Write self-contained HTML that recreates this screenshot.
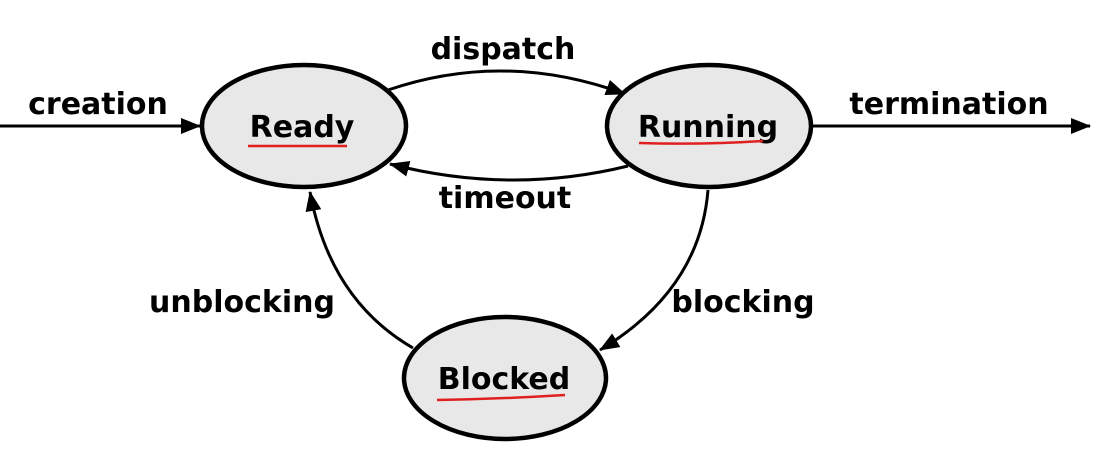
<!DOCTYPE html>
<html><head><meta charset="utf-8"><style>
html,body{margin:0;padding:0;background:#fff;}
svg{display:block;}
text{font-family:"DejaVu Sans","Liberation Sans",sans-serif;font-weight:bold;font-size:30px;fill:#000;}
</style></head><body>
<svg width="1096" height="464" viewBox="0 0 1096 464" xmlns="http://www.w3.org/2000/svg">
<defs>
<marker id="b" markerWidth="20" markerHeight="16" refX="19" refY="8" orient="auto" markerUnits="userSpaceOnUse">
<path d="M0,0 L20,8 L0,16 Z" fill="#000"/>
</marker>
</defs>
<g stroke="#000" stroke-width="3" fill="none">
<line x1="0" y1="126" x2="200" y2="126" marker-end="url(#b)"/>
<line x1="812" y1="126" x2="1090" y2="126" marker-end="url(#b)"/>
<path d="M388,90 Q505,50 625,94" marker-end="url(#b)"/>
<path d="M628,166 Q510,195 390,164" marker-end="url(#b)"/>
<path d="M708,190 Q700,290 600,350" marker-end="url(#b)"/>
<path d="M413,348 Q330,300 310,192" marker-end="url(#b)"/>
</g>
<g fill="#e8e8e8" stroke="#000" stroke-width="4.5">
<ellipse cx="304" cy="126" rx="102" ry="61"/>
<ellipse cx="709" cy="126" rx="102" ry="61"/>
<ellipse cx="505" cy="378" rx="101" ry="61"/>
</g>
<text x="302" y="137" text-anchor="middle">Ready</text>
<text x="708" y="137" text-anchor="middle">Running</text>
<text x="504" y="389" text-anchor="middle">Blocked</text>
<g stroke="#e02020" stroke-width="2.5" fill="none">
<line x1="248" y1="146" x2="347" y2="146"/>
<path d="M639,143 Q700,145 763,141"/>
<path d="M437,400 Q500,399 565,395"/>
</g>
<text x="98" y="114" text-anchor="middle">creation</text>
<text x="503" y="59" text-anchor="middle">dispatch</text>
<text x="505" y="208" text-anchor="middle">timeout</text>
<text x="242" y="312" text-anchor="middle">unblocking</text>
<text x="743" y="312" text-anchor="middle">blocking</text>
<text x="949" y="114" text-anchor="middle">termination</text>
</svg>
</body></html>
